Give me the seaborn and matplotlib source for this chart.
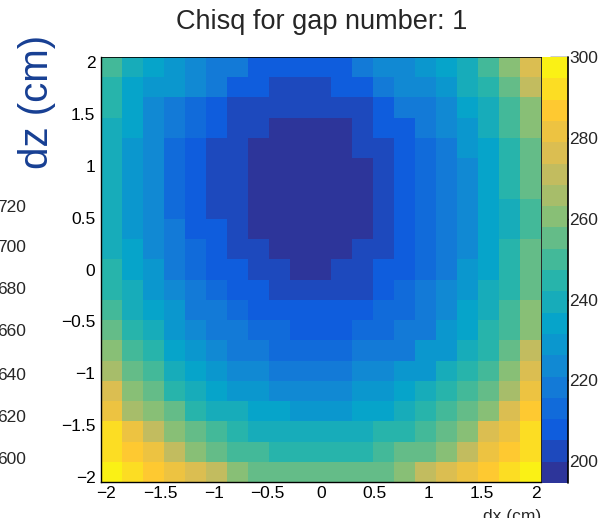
import numpy as np
import pandas as pd
import matplotlib
matplotlib.use("Agg")
import matplotlib.pyplot as plt
import seaborn as sns
from matplotlib.colors import ListedColormap, BoundaryNorm, LinearSegmentedColormap
from matplotlib.ticker import FixedLocator
from matplotlib.lines import Line2D

# ---- data ----
dx_values = [-2.0, -1.8, -1.6, -1.4, -1.2, -1.0, -0.8, -0.6, -0.4, -0.2, 0.0,
             0.2, 0.4, 0.6, 0.8, 1.0, 1.2, 1.4, 1.6, 1.8, 2.0]
dz_values = [2.0, 1.8, 1.6, 1.4, 1.2, 1.0, 0.8, 0.6, 0.4, 0.2, 0.0,
             -0.2, -0.4, -0.6, -0.8, -1.0, -1.2, -1.4, -1.6, -1.8, -2.0]
row_dz_2p0 = [250, 239, 234, 229, 223, 218, 218, 207, 207, 207, 207, 207, 218, 223, 223, 229, 234, 239, 250, 260, 276]
row_dz_1p8 = [244, 234, 229, 229, 223, 218, 207, 207, 202, 202, 202, 207, 207, 218, 223, 223, 229, 239, 244, 255, 271]
row_dz_1p6 = [244, 234, 223, 218, 213, 207, 202, 202, 202, 202, 202, 202, 202, 207, 218, 218, 223, 234, 239, 250, 260]
row_dz_1p4 = [239, 234, 223, 218, 213, 207, 202, 202, 197, 197, 197, 197, 202, 207, 207, 218, 223, 229, 239, 250, 260]
row_dz_1p2 = [239, 229, 223, 213, 207, 202, 202, 197, 197, 197, 197, 197, 202, 202, 207, 213, 218, 229, 234, 244, 255]
row_dz_1p0 = [239, 229, 223, 213, 207, 202, 202, 197, 197, 197, 197, 197, 197, 202, 207, 213, 218, 223, 234, 244, 255]
row_dz_0p8 = [239, 229, 223, 213, 207, 202, 202, 196, 195, 194.6, 197, 197, 197, 202, 207, 213, 218, 223, 234, 244, 255]
row_dz_0p6 = [239, 229, 223, 213, 207, 202, 202, 197, 196, 196, 197, 197, 197, 202, 207, 213, 218, 223, 234, 239, 250]
row_dz_0p4 = [239, 229, 223, 218, 207, 207, 202, 197, 197, 197, 197, 197, 197, 202, 207, 213, 218, 223, 234, 239, 250]
row_dz_0p2 = [239, 234, 223, 218, 213, 207, 202, 202, 197, 197, 197, 197, 202, 202, 207, 213, 218, 223, 234, 244, 255]
row_dz_0p0 = [244, 234, 229, 218, 213, 207, 207, 202, 202, 197, 197, 202, 202, 207, 207, 213, 218, 229, 234, 244, 255]
row_dz_m0p2 = [244, 239, 229, 223, 218, 213, 207, 207, 202, 202, 202, 202, 202, 207, 213, 218, 223, 229, 239, 244, 255]
row_dz_m0p4 = [250, 239, 234, 229, 218, 218, 213, 207, 207, 207, 207, 207, 207, 213, 213, 218, 223, 234, 239, 250, 260]
row_dz_m0p6 = [255, 244, 239, 229, 223, 218, 218, 213, 213, 207, 207, 207, 213, 213, 218, 218, 229, 234, 244, 250, 260]
row_dz_m0p8 = [260, 250, 244, 234, 229, 223, 218, 218, 213, 213, 213, 213, 218, 218, 218, 229, 229, 239, 244, 255, 271]
row_dz_m1p0 = [265, 255, 250, 239, 234, 229, 223, 223, 218, 218, 218, 218, 223, 223, 229, 229, 239, 244, 250, 260, 276]
row_dz_m1p2 = [276, 260, 255, 244, 239, 234, 229, 229, 223, 223, 223, 223, 229, 229, 234, 239, 244, 250, 255, 265, 281]
row_dz_m1p4 = [281, 265, 260, 255, 244, 239, 239, 234, 234, 229, 229, 229, 234, 234, 239, 244, 250, 255, 260, 276, 286]
row_dz_m1p6 = [292, 281, 271, 260, 255, 250, 244, 239, 239, 239, 239, 239, 239, 244, 244, 250, 255, 260, 276, 281, 292]
row_dz_m1p8 = [292, 286, 281, 271, 260, 255, 250, 250, 244, 244, 244, 244, 244, 250, 255, 255, 260, 271, 281, 286, 292]
row_dz_m2p0 = [300, 292, 286, 281, 276, 271, 260, 255, 255, 255, 255, 255, 255, 255, 260, 271, 276, 281, 286, 292, 299]

rows = [row_dz_2p0, row_dz_1p8, row_dz_1p6, row_dz_1p4, row_dz_1p2, row_dz_1p0,
        row_dz_0p8, row_dz_0p6, row_dz_0p4, row_dz_0p2, row_dz_0p0, row_dz_m0p2,
        row_dz_m0p4, row_dz_m0p6, row_dz_m0p8, row_dz_m1p0, row_dz_m1p2, row_dz_m1p4,
        row_dz_m1p6, row_dz_m1p8, row_dz_m2p0]

colorbar_ticks = [200, 220, 240, 260, 280, 300]
stray_ticks = ["720", "700", "680", "660", "640", "620", "600"]
axis_ticks = [-2, -1.5, -1, -0.5, 0, 0.5, 1, 1.5, 2]

title_text = "Chisq for gap number: 1"
ylabel_text = "dz (cm)"
xlabel_text = "dx (cm)"

# ---- styling / layout ----
sns.set_style("white")
plt.rcParams["font.family"] = ["Liberation Sans", "DejaVu Sans"]
plt.rcParams["axes.unicode_minus"] = True

W, H = 599, 518
fig = plt.figure(figsize=(W / 100, H / 100), dpi=100)
ax = fig.add_axes([101 / W, 1 - 482 / H, 440 / W, 425 / H])
cax = fig.add_axes([542 / W, 1 - 483 / H, 26 / W, 426 / H])

df = pd.DataFrame(rows, index=dz_values, columns=dx_values)

bird = ["#352a87", "#0f5cdd", "#1481d6", "#06a4ca", "#2eb7a4",
        "#87bf77", "#d1bb59", "#fec832", "#f9fb0e"]
bird_cmap = LinearSegmentedColormap.from_list("bird", bird)
n_levels = 20
cmap = ListedColormap(bird_cmap(np.linspace(0.03, 0.975, n_levels)))
zmin = float(df.values.min())
zmax = float(df.values.max())
levels = np.linspace(zmin, zmax, n_levels + 1)
norm = BoundaryNorm(levels, n_levels)

sns.heatmap(df, ax=ax, cbar_ax=cax, cmap=cmap, norm=norm,
            xticklabels=False, yticklabels=False, linewidths=0)

AX_MIN, AX_MAX = -2.05, 2.05
nx = len(dx_values)
ny = len(dz_values)
bw_x = (AX_MAX - AX_MIN) / nx
bw_y = (AX_MAX - AX_MIN) / ny

def xpos(v):
    return (v - AX_MIN) / bw_x

def ypos(v):
    return (AX_MAX - v) / bw_y

def fmt(v):
    s = "%g" % v
    return s.replace("-", "\u2212")

FS = 12.5
minor_vals = np.round(np.arange(-2.0, 2.0001, 0.1), 2)
ax.xaxis.set_major_locator(FixedLocator([xpos(v) for v in axis_ticks]))
ax.xaxis.set_minor_locator(FixedLocator([xpos(v) for v in minor_vals]))
ax.set_xticklabels([fmt(v) for v in axis_ticks])
ax.yaxis.set_major_locator(FixedLocator([ypos(v) for v in axis_ticks]))
ax.yaxis.set_minor_locator(FixedLocator([ypos(v) for v in minor_vals]))
ax.set_yticklabels([fmt(v) for v in axis_ticks])
ax.set_xlabel("")
ax.set_ylabel("")

ax.tick_params(axis="both", which="major", direction="in", length=12, width=1,
               color="black", labelsize=FS, labelcolor="black",
               bottom=True, left=True, top=False, right=False)
ax.tick_params(axis="both", which="minor", direction="in", length=6, width=1,
               color="black", bottom=True, left=True, top=False, right=False)
ax.tick_params(axis="y", which="major", pad=4)
ax.tick_params(axis="x", which="major", pad=3)
for sp in ax.spines.values():
    sp.set_visible(True)
    sp.set_color("black")
    sp.set_linewidth(1)
ax.spines["top"].set_linewidth(0.6)
ax.spines["right"].set_linewidth(0.6)

cbar = ax.collections[0].colorbar
cbar.set_ticks(colorbar_ticks)
cbar.set_ticklabels([str(t) for t in colorbar_ticks])
cbar.outline.set_visible(False)
cax.add_line(Line2D([1, 1], [0, 1], transform=cax.transAxes, color="black",
                    linewidth=1.2, clip_on=False))
cax.yaxis.set_ticks_position("right")
cax.tick_params(axis="y", which="major", direction="in", length=13, width=1,
                labelsize=FS, pad=1, color="black")
cax.tick_params(axis="y", which="minor", length=0)

fig.text(322 / W, 1 - 22 / H, title_text, ha="center", va="center", fontsize=19.5)
fig.text(37 / W, 1 - 102 / H, ylabel_text, rotation=90, ha="center", va="center",
         fontsize=29, color="#173f93")
fig.text(541 / W, 1 - 517 / H, xlabel_text, ha="right", va="center", fontsize=FS)

stray_y = [207, 248, 290, 332, 375, 417, 460]
for lab, yy in zip(stray_ticks, stray_y):
    fig.text(-3 / W, 1 - yy / H, lab, ha="left", va="center", fontsize=FS)

fig.savefig("out.png", dpi=100)
